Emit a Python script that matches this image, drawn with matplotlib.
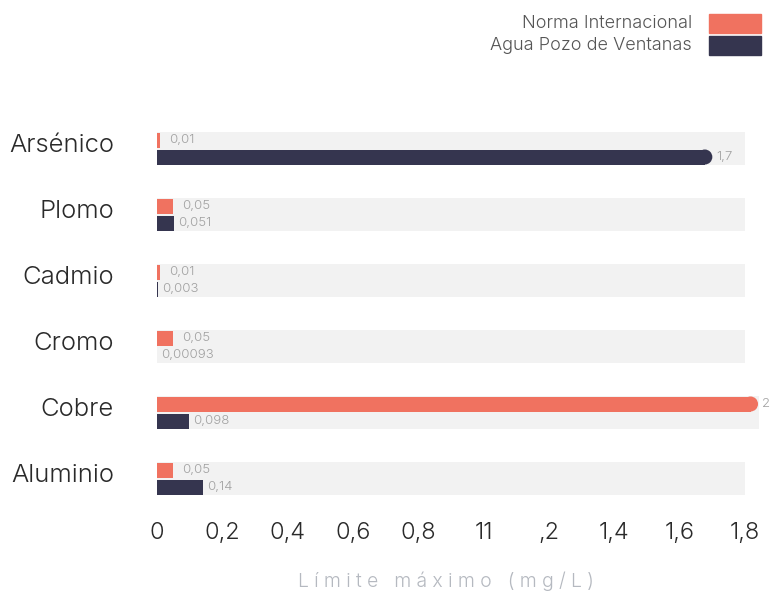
import matplotlib
matplotlib.use("Agg")
import matplotlib.pyplot as plt
import matplotlib.transforms as mtransforms
from matplotlib.patches import Rectangle, Ellipse

# Límite máximo de metales: norma internacional vs agua del pozo de Ventanas
metales = ["Arsénico", "Plomo", "Cadmio", "Cromo", "Cobre", "Aluminio"]
norma = [0.01, 0.05, 0.01, 0.05, 2, 0.05]
pozo = [1.7, 0.051, 0.003, 0.00093, 0.098, 0.14]
etiq_norma = ["0,01", "0,05", "0,01", "0,05", "2", "0,05"]
etiq_pozo = ["1,7", "0,051", "0,003", "0,00093", "0,098", "0,14"]
ticks = [0, 0.2, 0.4, 0.6, 0.8, 1.0, 1.2, 1.4, 1.6, 1.8]
tick_labels = ["0", "0,2", "0,4", "0,6", "0,8", "11", ",2", "1,4", "1,6", "1,8"]

COL_NORMA = "#f07260"
COL_POZO = "#35354f"
COL_BANDA = "#f2f2f2"

plt.rcParams["font.family"] = ["Inter", "DejaVu Sans"]
plt.rcParams["font.weight"] = 300

W, H = 773, 593
fig = plt.figure(figsize=(W / 100, H / 100), dpi=100)

# ejes en pixeles: 0 -> x=157, 1.8 -> x=745
x0, x18 = 157, 745
ppu = (x18 - x0) / 1.8
x_right = 759
y_top, y_bot = 115, 500
paso = 66.0
c0 = 148.5

ax = fig.add_axes([x0 / W, 1 - y_bot / H, (x_right - x0) / W, (y_bot - y_top) / H])
xmax = (x_right - x0) / ppu
ax.set_xlim(0, xmax)
ax.set_ylim((y_bot - c0) / paso, (y_top - c0) / paso)

h_bar = 15 / paso
off = 8.5 / paso
h_band = 33 / paso
rx = 7.5 / ppu


def barra(y, v, color):
    fin = min(v, xmax - 0.003)
    if v > 1:
        ax.add_patch(Rectangle((0, y - h_bar / 2), fin - rx, h_bar, color=color, lw=0))
        ax.add_patch(Ellipse((fin - rx, y), 2 * rx, h_bar, color=color, lw=0))
    else:
        ax.add_patch(Rectangle((0, y - h_bar / 2), v, h_bar, color=color, lw=0))
    return fin


def etiqueta(x, y, v, fin, txt, dx):
    # las barras que se salen del eje llevan la etiqueta mas pegada
    if v > fin:
        dx = 4
    ax.text(fin + dx / ppu, y, txt, fontsize=9.5, color="#a0a0a0",
            va="center", ha="left", clip_on=False)


for i, m in enumerate(metales):
    fin_banda = max(1.8, min(max(norma[i], pozo[i]), xmax))
    ax.add_patch(Rectangle((0, i - h_band / 2), fin_banda, h_band, color=COL_BANDA, lw=0, zorder=0))
    e1 = barra(i - off, norma[i], COL_NORMA)
    e2 = barra(i + off, pozo[i], COL_POZO)
    etiqueta(e1, i - off, norma[i], e1, etiq_norma[i], 9)
    etiqueta(e2, i + off, pozo[i], e2, etiq_pozo[i], 4)

ax.set_yticks(range(len(metales)))
ax.set_yticklabels(metales, fontsize=18.5, color="#2a2a2a")
ax.set_xticks(ticks)
ax.set_xticklabels(tick_labels, fontsize=17, color="#2a2a2a")
ax.tick_params(axis="y", length=0, pad=31)
ax.tick_params(axis="x", length=0, pad=16)
for s in ax.spines.values():
    s.set_visible(False)

# nombres de los metales un poco por encima del centro de la banda
subir = mtransforms.ScaledTranslation(0, 6 / 100, fig.dpi_scale_trans)
for lab in ax.get_yticklabels():
    lab.set_transform(lab.get_transform() + subir)

# titulo del eje con espaciado entre letras
sep = "\u2009\u200a"
fig.text(446 / W, 1 - 581 / H, sep.join("Límite máximo (mg/L)"), fontsize=14,
         color="#b5b9c0", ha="center", va="center")

# leyenda manual
fig.patches.append(Rectangle((709 / W, 1 - 33 / H), 52 / W, 19 / H, color=COL_NORMA,
                             transform=fig.transFigure, figure=fig))
fig.patches.append(Rectangle((709 / W, 1 - 55 / H), 52 / W, 19 / H, color=COL_POZO,
                             transform=fig.transFigure, figure=fig))
fig.text(692 / W, 1 - 23 / H, "Norma Internacional", fontsize=13, color="#555555",
         ha="right", va="center")
fig.text(692 / W, 1 - 46 / H, "Agua Pozo de Ventanas", fontsize=13, color="#555555",
         ha="right", va="center")

fig.savefig("out.png", dpi=100)
